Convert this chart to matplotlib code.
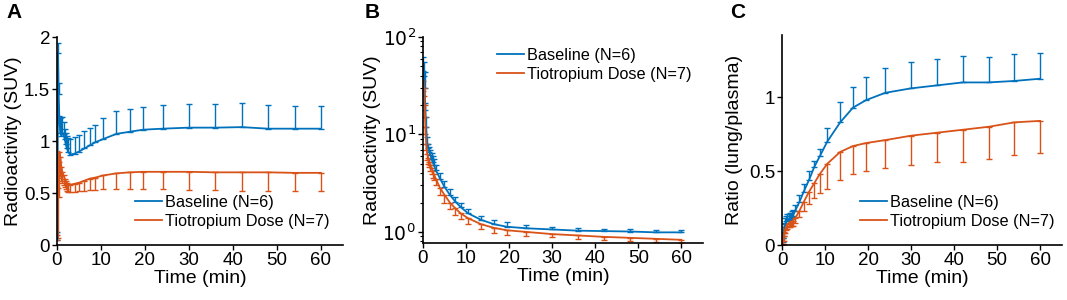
import numpy as np
import matplotlib.pyplot as plt
from matplotlib.lines import Line2D

# frame mid-times (min), shared by all three panels
t = [0.1, 0.25, 0.4, 0.55, 0.75, 1.0, 1.25, 1.5, 1.75, 2.0, 2.25, 2.5, 3.0, 4.0, 5.0,
     6.25, 7.5, 8.75, 10.5, 13.5, 16.5, 19.5, 24, 30, 36, 42, 48, 54, 60]

# A: lung radioactivity (SUV)
a_base = [0.05, 1.85, 1.45, 1.2, 1.08, 1.05, 1.08, 1.07, 1.02, 0.97, 0.93, 0.9, 0.87, 0.88, 0.9,
          0.93, 0.96, 0.99, 1.02, 1.07, 1.09, 1.11, 1.12, 1.13, 1.13, 1.135, 1.12, 1.12, 1.12]
a_base_hi = [0.13, 1.94, 1.56, 1.24, 1.22, 1.23, 1.23, 1.18, 1.12, 1.08, 1.05, 1.03, 1.02, 1.04, 1.06,
             1.1, 1.13, 1.16, 1.22, 1.29, 1.31, 1.33, 1.35, 1.36, 1.36, 1.37, 1.35, 1.34, 1.34]
a_tio = [0.1, 0.55, 0.8, 0.9, 0.85, 0.75, 0.7, 0.67, 0.64, 0.62, 0.6, 0.59, 0.58, 0.59, 0.6,
         0.62, 0.64, 0.65, 0.67, 0.69, 0.7, 0.705, 0.705, 0.705, 0.7, 0.7, 0.7, 0.695, 0.695]
a_tio_lo = [0.05, 0.07, 0.46, 0.65, 0.66, 0.62, 0.6, 0.58, 0.56, 0.54, 0.52, 0.51, 0.51, 0.51, 0.52,
            0.52, 0.53, 0.53, 0.54, 0.54, 0.54, 0.54, 0.54, 0.53, 0.53, 0.52, 0.52, 0.52, 0.52]

# B: plasma radioactivity (SUV), log scale
b_base = [45, 40, 30, 18, 12, 8, 7.2, 6.6, 6.1, 5.6, 5.2, 4.9, 4.3, 3.5, 2.9,
          2.4, 2.05, 1.8, 1.55, 1.33, 1.2, 1.13, 1.09, 1.06, 1.03, 1.02, 1.01, 0.99, 0.99]
b_base_hi = [62, 55, 44, 21, 15, 9.5, 8, 7.4, 6.9, 6.4, 6.0, 5.6, 4.9, 4.0, 3.3,
             2.75, 2.3, 2.0, 1.7, 1.45, 1.32, 1.25, 1.18, 1.13, 1.09, 1.07, 1.06, 1.05, 1.05]
b_tio = [35, 30, 20, 12, 8, 6.3, 5.7, 5.2, 4.8, 4.5, 4.2, 3.9, 3.5, 2.8, 2.4,
         2.0, 1.75, 1.55, 1.38, 1.2, 1.1, 1.04, 1.0, 0.95, 0.92, 0.89, 0.87, 0.85, 0.83]
b_tio_lo = [28, 25, 15, 10, 7, 5.5, 5.0, 4.6, 4.2, 3.9, 3.6, 3.4, 3.0, 2.4, 2.0,
            1.7, 1.5, 1.35, 1.2, 1.06, 0.98, 0.94, 0.91, 0.88, 0.85, 0.83, 0.81, 0.78, 0.77]

# C: lung/plasma ratio
c_base = [0.02, 0.05, 0.08, 0.11, 0.14, 0.16, 0.165, 0.17, 0.175, 0.18, 0.19, 0.2, 0.23, 0.29, 0.36,
          0.44, 0.53, 0.6, 0.7, 0.83, 0.93, 0.98, 1.03, 1.06, 1.08, 1.1, 1.1, 1.11, 1.125]
c_base_hi = [0.05, 0.08, 0.12, 0.15, 0.18, 0.2, 0.21, 0.21, 0.22, 0.22, 0.23, 0.24, 0.27, 0.34, 0.41,
             0.5, 0.57, 0.65, 0.79, 0.97, 1.07, 1.14, 1.2, 1.24, 1.26, 1.28, 1.275, 1.29, 1.3]
c_tio = [0.01, 0.03, 0.06, 0.09, 0.11, 0.13, 0.14, 0.145, 0.15, 0.155, 0.16, 0.165, 0.18, 0.23, 0.29,
         0.36, 0.42, 0.48, 0.55, 0.63, 0.67, 0.69, 0.71, 0.74, 0.76, 0.78, 0.8, 0.83, 0.84]
c_tio_lo = [0.0, 0.01, 0.03, 0.06, 0.08, 0.1, 0.11, 0.12, 0.12, 0.13, 0.13, 0.13, 0.15, 0.19, 0.23,
            0.28, 0.32, 0.35, 0.38, 0.44, 0.48, 0.5, 0.52, 0.54, 0.56, 0.565, 0.58, 0.61, 0.62]

labels = ["Baseline (N=6)", "Tiotropium Dose (N=7)"]

BLUE = "#0072BD"
ORANGE = "#D95319"

plt.rcParams["font.family"] = ["Liberation Sans", "DejaVu Sans"]


def draw(ax, base, base_hi, tio, tio_lo):
    tt = np.array(t)
    base = np.array(base)
    tio = np.array(tio)
    up = np.array(base_hi) - base
    lo = tio - np.array(tio_lo)
    ax.errorbar(tt, base, yerr=[np.zeros_like(up), up], color=BLUE, lw=1.3,
                elinewidth=1.0, capsize=2.5, capthick=1.0)
    ax.errorbar(tt, tio, yerr=[lo, np.zeros_like(lo)], color=ORANGE, lw=1.3,
                elinewidth=1.0, capsize=2.5, capthick=1.0)
    ax.spines["top"].set_visible(False)
    ax.spines["right"].set_visible(False)
    ax.spines["left"].set_linewidth(1.2)
    ax.spines["bottom"].set_linewidth(1.2)
    ax.tick_params(direction="out", length=3.5, width=1.0, labelsize=13.5, pad=1.5)
    ax.set_xlim(0, 65)
    ax.set_xticks([0, 10, 20, 30, 40, 50, 60])
    ax.set_xlabel("Time (min)", fontsize=14, labelpad=1)


def add_legend(ax, x, y):
    handles = [Line2D([], [], color=BLUE, lw=1.3), Line2D([], [], color=ORANGE, lw=1.3)]
    ax.legend(handles, labels, loc="upper left", bbox_to_anchor=(x, y), frameon=False,
              fontsize=11.7, handlelength=1.66, handletextpad=0.18, labelspacing=0.27,
              borderpad=0, borderaxespad=0)


fig = plt.figure(figsize=(10.67, 3.0), dpi=100)
axA = fig.add_axes([0.0534, 0.183, 0.268, 0.693])
axB = fig.add_axes([0.3964, 0.19, 0.2624, 0.687])
axC = fig.add_axes([0.733, 0.183, 0.262, 0.70])

draw(axA, a_base, a_base_hi, a_tio, a_tio_lo)
axA.set_ylim(0, 2)
axA.set_yticks([0, 0.5, 1, 1.5, 2])
axA.set_yticklabels(["0", "0.5", "1", "1.5", "2"])
axA.set_ylabel("Radioactivity (SUV)", fontsize=14)
axA.yaxis.set_label_coords(-0.122, 0.5)
add_legend(axA, 0.273, 0.242)

draw(axB, b_base, b_base_hi, b_tio, b_tio_lo)
axB.set_yscale("log")
axB.set_ylim(0.77, 100)
axB.set_yticks([1, 10, 100])
axB.set_yticklabels([r"$10^0$", r"$10^1$", r"$10^2$"])
axB.tick_params(which="minor", direction="out", length=2, width=0.8)
axB.set_ylabel("Radioactivity (SUV)", fontsize=14)
axB.yaxis.set_label_coords(-0.15, 0.5)
add_legend(axB, 0.264, 0.948)

draw(axC, c_base, c_base_hi, c_tio, c_tio_lo)
axC.set_ylim(0, 1.42)
axC.set_yticks([0, 0.5, 1])
axC.set_yticklabels(["0", "0.5", "1"])
axC.set_ylabel("Ratio (lung/plasma)", fontsize=14)
axC.yaxis.set_label_coords(-0.139, 0.5)
add_legend(axC, 0.279, 0.24)

for x, letter in [(0.006, "A"), (0.342, "B"), (0.684, "C")]:
    fig.text(x, 0.99, letter, fontsize=15, fontweight="bold", va="top", ha="left")

fig.savefig("out.png", dpi=100)
